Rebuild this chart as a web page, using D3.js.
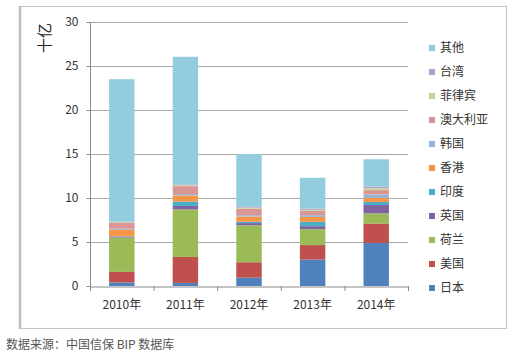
<!DOCTYPE html>
<html><head><meta charset="utf-8">
<script src="https://cdn.jsdelivr.net/npm/d3@7"></script>
<style>body{margin:0;background:#fff}text{font-family:"Noto Sans CJK SC","Noto Sans",sans-serif}</style>
</head><body><svg id="c" width="528" height="358"></svg>
<script>
const categories = ["2010年","2011年","2012年","2013年","2014年"];
const seriesNames = ["日本","美国","荷兰","英国","印度","香港","韩国","澳大利亚","菲律宾","台湾","其他"];
const japan      = [0.4, 0.35, 0.95, 3.0, 4.9];
const usa        = [1.2, 2.95, 1.75, 1.65, 2.2];
const netherlands= [3.9, 5.4, 4.2, 1.8, 1.15];
const uk         = [0.1, 0.4, 0.25, 0.35, 0.95];
const india      = [0.05, 0.5, 0.15, 0.5, 0.35];
const hongkong   = [0.75, 0.7, 0.6, 0.55, 0.45];
const korea      = [0.1, 0.15, 0.15, 0.2, 0.4];
const australia  = [0.7, 0.9, 0.75, 0.5, 0.5];
const philippines= [0.05, 0.1, 0.1, 0.1, 0.2];
const taiwan     = [0.05, 0.1, 0.1, 0.15, 0.2];
const others     = [16.2, 14.5, 6.0, 3.5, 3.1];
const yTicks = [0,5,10,15,20,25,30];
const colors = ["#4f81bd","#c0504d","#9bbb59","#8064a2","#4bacc6","#f79646","#95b3d7","#d99694","#c3d69b","#b2a2c7","#93cddd"];

const seriesVals = [japan,usa,netherlands,uk,india,hongkong,korea,australia,philippines,taiwan,others];
const rows = categories.map((c,i)=>{const r={cat:c}; seriesNames.forEach((s,j)=>r[s]=seriesVals[j][i]); return r;});
const stack = d3.stack().keys(seriesNames)(rows);

const svg = d3.select("#c");
// frame
svg.append("rect").attr("x",19.5).attr("y",6.5).attr("width",487).attr("height",322)
  .attr("fill","none").attr("stroke","#c4c4c4").attr("stroke-width",1);
svg.append("line").attr("x1",20).attr("x2",20).attr("y1",6).attr("y2",329).attr("stroke","#bdbdbd").attr("stroke-width",2.5);

const x = d3.scaleBand().domain(categories).range([90,408]).paddingInner(0.6).paddingOuter(0.3);
const xb = d3.scaleBand().domain(categories).range([90,408]);
const y = d3.scaleLinear().domain([0,30]).range([286,22]);

// gridlines
svg.append("g").selectAll("line").data(yTicks.filter(t=>t>0)).join("line")
  .attr("x1",90).attr("x2",408).attr("y1",d=>y(d)+0.5).attr("y2",d=>y(d)+0.5)
  .attr("stroke","#a8a8a8").attr("stroke-width",1);

// bars
svg.append("g").selectAll("g").data(stack).join("g").attr("fill",(d,i)=>colors[i])
  .selectAll("rect").data(d=>d).join("rect")
  .attr("x",d=>x(d.data.cat)).attr("width",x.bandwidth())
  .attr("y",d=>y(d[1])).attr("height",d=>y(d[0])-y(d[1]));

// y axis
const ya = d3.axisLeft(y).tickValues(yTicks).tickSize(4).tickPadding(8);
const yg = svg.append("g").attr("transform","translate(90.5,0)").call(ya);
yg.select(".domain").attr("stroke","#8c8c8c").attr("d","M0,22V286");
yg.selectAll(".tick line").attr("stroke","#8c8c8c");
yg.selectAll(".tick text").attr("font-size",12).attr("fill","#333");

// x axis
const xa = d3.axisBottom(xb).tickSize(0).tickPadding(14);
const xg = svg.append("g").attr("transform","translate(0,286.5)").call(xa);
xg.select(".domain").attr("stroke","#8c8c8c");
xg.selectAll(".tick text").attr("font-size",12).attr("fill","#333");
svg.append("g").selectAll("line").data(categories.concat(["end"])).join("line")
  .attr("x1",(d,i)=>90.5+i*xb.step()).attr("x2",(d,i)=>90.5+i*xb.step())
  .attr("y1",286).attr("y2",291).attr("stroke","#8c8c8c");

// y title
svg.append("text").attr("transform","translate(50,38) rotate(-90)").attr("text-anchor","middle")
  .attr("font-size",15).attr("fill","#222").text("十亿");

// legend
const legItems = seriesNames.map((s,i)=>({s,c:colors[i]})).reverse();
const lg = svg.append("g").selectAll("g").data(legItems).join("g")
  .attr("transform",(d,i)=>`translate(429,${48+i*24})`);
lg.append("rect").attr("x",0).attr("y",-3).attr("width",6).attr("height",6).attr("fill",d=>d.c);
lg.append("text").attr("x",11).attr("y",0).attr("dy","0.35em").attr("font-size",12).attr("fill","#333").text(d=>d.s);

// source
svg.append("text").attr("x",6).attr("y",349).attr("font-size",12).attr("fill","#555").text("数据来源：中国信保 BIP 数据库");
</script></body></html>
